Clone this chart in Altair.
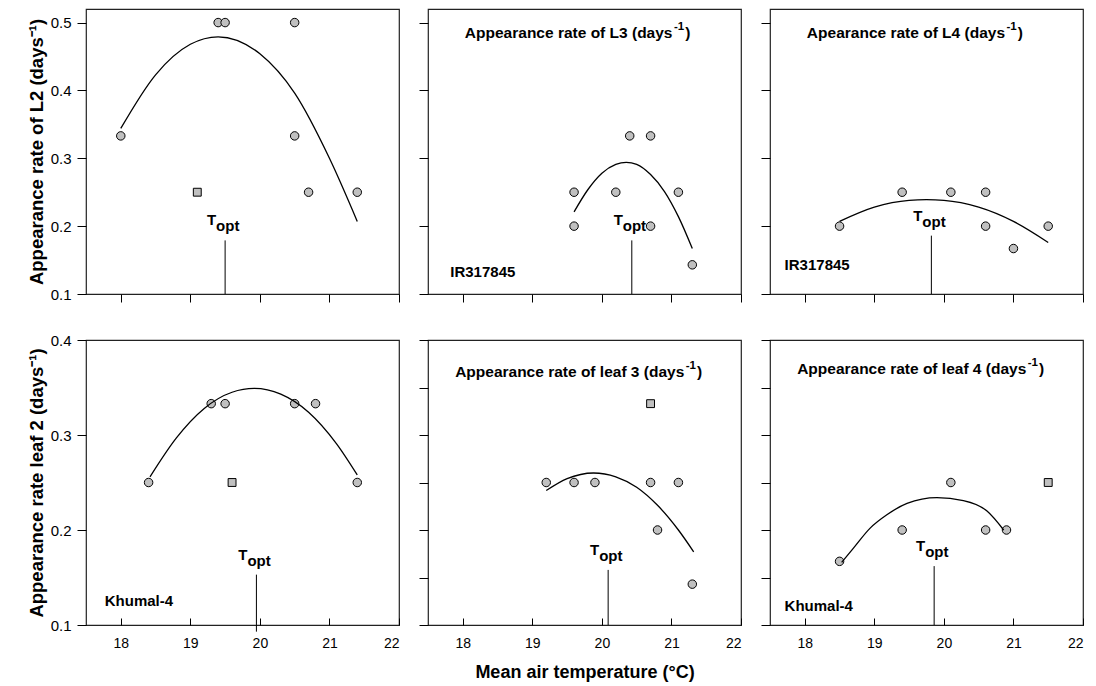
import altair as alt
import pandas as pd

FONT = "Liberation Sans"

# ---------------- axis tick values ----------------
x_ticks = [18, 19, 20, 21, 22]
top_y_ticks = [0.1, 0.2, 0.3, 0.4, 0.5]
bl_y_ticks = [0.1, 0.2, 0.3, 0.4]
bx_y_ticks = [0.1, 0.15, 0.2, 0.25, 0.3, 0.35, 0.4]

# ---------------- panel A : L2, IR317845 ----------------
a_circle_x = [18.0, 19.4, 19.5, 20.5, 20.5, 20.7, 21.4]
a_circle_y = [0.333, 0.5, 0.5, 0.5, 0.333, 0.25, 0.25]
a_square_x = [19.1]
a_square_y = [0.25]
a_curve_x = [18.0, 18.5, 19.0, 19.4, 20.0, 20.5, 21.0, 21.4]
a_curve_y = [0.344, 0.423, 0.468, 0.479, 0.454, 0.396, 0.300, 0.207]
a_topt = [19.5]
a_topt_top = [0.179]
a_topt_bottom = [0.1]

# ---------------- panel B : L3, IR317845 ----------------
b_circle_x = [19.6, 19.6, 20.2, 20.4, 20.7, 20.7, 21.1, 21.3]
b_circle_y = [0.25, 0.2, 0.25, 0.333, 0.333, 0.2, 0.25, 0.143]
b_square_x = []
b_square_y = []
b_curve_x = [19.6, 19.8, 20.0, 20.2, 20.35, 20.5, 20.7, 20.9, 21.1, 21.3]
b_curve_y = [0.221, 0.254, 0.278, 0.291, 0.294, 0.291, 0.276, 0.251, 0.214, 0.167]
b_topt = [20.43]
b_topt_top = [0.179]
b_topt_bottom = [0.1]

# ---------------- panel C : L4, IR317845 ----------------
c_circle_x = [18.5, 19.4, 20.1, 20.6, 20.6, 21.0, 21.5]
c_circle_y = [0.2, 0.25, 0.25, 0.25, 0.2, 0.167, 0.2]
c_square_x = []
c_square_y = []
c_curve_x = [18.5, 19.0, 19.5, 19.75, 20.0, 20.5, 21.0, 21.5]
c_curve_y = [0.207, 0.228, 0.238, 0.239, 0.238, 0.228, 0.207, 0.176]
c_topt = [19.82]
c_topt_top = [0.186]
c_topt_bottom = [0.1]

# ---------------- panel D : leaf 2, Khumal-4 ----------------
d_circle_x = [18.4, 19.3, 19.5, 20.5, 20.8, 21.4]
d_circle_y = [0.25, 0.333, 0.333, 0.333, 0.333, 0.25]
d_square_x = [19.6]
d_square_y = [0.25]
d_curve_x = [18.42, 18.8, 19.2, 19.6, 19.92, 20.3, 20.7, 21.1, 21.4]
d_curve_y = [0.256, 0.297, 0.328, 0.345, 0.349, 0.343, 0.324, 0.291, 0.258]
d_topt = [19.95]
d_topt_top = [0.153]
d_topt_bottom = [0.093]

# ---------------- panel E : leaf 3, Khumal-4 ----------------
e_circle_x = [19.2, 19.6, 19.9, 20.7, 21.1, 20.8, 21.3]
e_circle_y = [0.25, 0.25, 0.25, 0.25, 0.25, 0.2, 0.143]
e_square_x = [20.7]
e_square_y = [0.333]
e_curve_x = [19.2, 19.5, 19.88, 20.2, 20.5, 20.8, 21.1, 21.32]
e_curve_y = [0.2415, 0.254, 0.26, 0.256, 0.245, 0.226, 0.2, 0.177]
e_topt = [20.09]
e_topt_top = [0.158]
e_topt_bottom = [0.1]

# ---------------- panel F : leaf 4, Khumal-4 ----------------
f_circle_x = [18.5, 19.4, 20.1, 20.6, 20.9]
f_circle_y = [0.167, 0.2, 0.25, 0.2, 0.2]
f_square_x = [21.5]
f_square_y = [0.25]
f_curve_x = [18.53, 18.70, 18.94, 19.18, 19.47, 19.90, 20.28, 20.62, 20.86]
f_curve_y = [0.166, 0.181, 0.202, 0.216, 0.228, 0.234, 0.231, 0.220, 0.200]
f_topt = [19.86]
f_topt_top = [0.162]
f_topt_bottom = [0.1]

# ---------------- texts ----------------
# (main text, superscript, closing, x start, baseline y)
panel_titles = {
    "B": ("Appearance rate of L3 (days", "-1", ")", 18.03, 0.478),
    "C": ("Apearance rate of L4 (days", "-1", ")", 18.03, 0.478),
    "E": ("Appearance rate of leaf 3 (days", "-1", ")", 17.89, 0.361),
    "F": ("Appearance rate of leaf 4 (days", "-1", ")", 17.89, 0.364),
}
cultivar_labels = {
    "B": ("IR317845", 17.82, 0.1255),
    "C": ("IR317845", 17.71, 0.135),
    "D": ("Khumal-4", 17.77, 0.120),
    "F": ("Khumal-4", 17.71, 0.115),
}
y_titles = {
    "A": "Appearance rate of L2 (days⁻¹)",
    "D": "Appearance rate leaf 2 (days⁻¹)",
}
x_title_text = "Mean air temperature (°C)"

X_DOMAIN = [17.5, 22]
TOP_Y_DOMAIN = [0.1, 0.52]
BOT_Y_DOMAIN = [0.1, 0.4]

GRAY = "#c0c0c0"
TITLE_SIZE = 15.5
SUP_SIZE = 11.5

# Arial/Liberation Sans Bold advance widths (1/1000 em), for placing superscripts
BOLD_W = {"A": 722, "p": 611, "e": 556, "a": 556, "r": 389, "n": 611, "c": 556,
          " ": 278, "t": 333, "o": 611, "f": 333, "L": 611, "3": 556, "4": 556,
          "(": 333, "d": 611, "y": 556, "s": 556, "l": 278, ")": 333, "-": 333,
          "1": 556}


def text_width(s, size):
    return sum(BOLD_W.get(ch, 556) for ch in s) * size / 1000.0


def make_panel(key, cx, cy, sx, sy, kx, ky, topt, ttop, tbot, row, yvals, ylabels):
    ydom = TOP_Y_DOMAIN if row == "top" else BOT_Y_DOMAIN
    xscale = alt.Scale(domain=X_DOMAIN, nice=False, zero=False)
    yscale = alt.Scale(domain=ydom, nice=False, zero=False)

    if row == "top":
        xaxis = alt.Axis(values=x_ticks, labels=False, tickSize=8, domain=False,
                         grid=False, title="")
    else:
        xaxis = alt.Axis(values=x_ticks, labels=True, tickSize=7, offset=-7,
                         domain=False, grid=False, format="d", labelPadding=11,
                         title=x_title_text if key == "E" else "", titlePadding=13)
    yaxis = alt.Axis(values=yvals, labels=ylabels, tickSize=9, labelPadding=6,
                     domain=False, grid=False, format=".1f",
                     title=y_titles.get(key, ""), titlePadding=4)

    X = lambda f: alt.X(f, type="quantitative", scale=xscale, axis=xaxis)
    Y = lambda f: alt.Y(f, type="quantitative", scale=yscale, axis=yaxis)

    layers = []
    circ = pd.DataFrame({"x": cx, "y": cy})
    layers.append(alt.Chart(circ).mark_point(shape="circle", filled=True, fill=GRAY,
                                             stroke="black", strokeWidth=1, size=72,
                                             opacity=1).encode(x=X("x"), y=Y("y")))
    if len(sx):
        sq = pd.DataFrame({"x": sx, "y": sy})
        layers.append(alt.Chart(sq).mark_point(shape="square", filled=True, fill=GRAY,
                                               stroke="black", strokeWidth=1, size=62,
                                               opacity=1).encode(x=X("x"), y=Y("y")))
    cur = pd.DataFrame({"x": kx, "y": ky})
    layers.append(alt.Chart(cur).mark_line(color="black", strokeWidth=1.3,
                                           interpolate="monotone").encode(x=X("x"), y=Y("y")))
    tl = pd.DataFrame({"x": topt, "y": tbot, "y2": ttop})
    layers.append(alt.Chart(tl).mark_rule(color="black", strokeWidth=1).encode(
        x=X("x"), y=Y("y"), y2="y2:Q"))
    layers.append(alt.Chart(tl).mark_text(text="T", align="right", baseline="alphabetic",
                                          dx=-9, dy=-15, font=FONT, fontSize=15,
                                          fontWeight="bold", color="black").encode(
        x=X("x"), y=Y("y2")))
    layers.append(alt.Chart(tl).mark_text(text="opt", align="left", baseline="alphabetic",
                                          dx=-9, dy=-9, font=FONT, fontSize=15,
                                          fontWeight="bold", color="black").encode(
        x=X("x"), y=Y("y2")))
    if key in panel_titles:
        main, sup, close, tx, ty = panel_titles[key]
        tdf = pd.DataFrame({"x": [tx], "y": [ty], "t": [main], "s": [sup], "c": [close]})
        w_main = text_width(main, TITLE_SIZE)
        w_sup = text_width(sup, SUP_SIZE)
        layers.append(alt.Chart(tdf).mark_text(align="left", baseline="alphabetic",
                                               font=FONT, fontSize=TITLE_SIZE,
                                               fontWeight="bold", color="black").encode(
            x=X("x"), y=Y("y"), text="t:N"))
        layers.append(alt.Chart(tdf).mark_text(align="left", baseline="alphabetic",
                                               dx=w_main + 1.5, dy=-8,
                                               font=FONT, fontSize=SUP_SIZE,
                                               fontWeight="bold", color="black").encode(
            x=X("x"), y=Y("y"), text="s:N"))
        layers.append(alt.Chart(tdf).mark_text(align="left", baseline="alphabetic",
                                               dx=w_main + w_sup + 2.5,
                                               font=FONT, fontSize=TITLE_SIZE,
                                               fontWeight="bold", color="black").encode(
            x=X("x"), y=Y("y"), text="c:N"))
    if key in cultivar_labels:
        t, tx, ty = cultivar_labels[key]
        cdf = pd.DataFrame({"x": [tx], "y": [ty], "t": [t]})
        layers.append(alt.Chart(cdf).mark_text(align="left", baseline="alphabetic",
                                               font=FONT, fontSize=15, fontWeight="bold",
                                               color="black").encode(
            x=X("x"), y=Y("y"), text="t:N"))
    return alt.layer(*layers).properties(width=313, height=285)


pA = make_panel("A", a_circle_x, a_circle_y, a_square_x, a_square_y, a_curve_x, a_curve_y,
                a_topt, a_topt_top, a_topt_bottom, "top", top_y_ticks, True)
pB = make_panel("B", b_circle_x, b_circle_y, b_square_x, b_square_y, b_curve_x, b_curve_y,
                b_topt, b_topt_top, b_topt_bottom, "top", top_y_ticks, False)
pC = make_panel("C", c_circle_x, c_circle_y, c_square_x, c_square_y, c_curve_x, c_curve_y,
                c_topt, c_topt_top, c_topt_bottom, "top", top_y_ticks, False)
pD = make_panel("D", d_circle_x, d_circle_y, d_square_x, d_square_y, d_curve_x, d_curve_y,
                d_topt, d_topt_top, d_topt_bottom, "bottom", bl_y_ticks, True)
pE = make_panel("E", e_circle_x, e_circle_y, e_square_x, e_square_y, e_curve_x, e_curve_y,
                e_topt, e_topt_top, e_topt_bottom, "bottom", bx_y_ticks, False)
pF = make_panel("F", f_circle_x, f_circle_y, f_square_x, f_square_y, f_curve_x, f_curve_y,
                f_topt, f_topt_top, f_topt_bottom, "bottom", bx_y_ticks, False)

chart = alt.concat(pA, pB, pC, pD, pE, pF, columns=3,
                   spacing={"row": 46, "column": 29}, bounds="flush").configure_view(
    stroke="#222222", strokeWidth=1.2
).configure_axis(
    labelFont=FONT, labelFontSize=14, labelColor="black",
    titleFont=FONT, titleFontSize=18, titleFontWeight="bold", titleColor="black",
    tickColor="black", tickWidth=1
).configure_axisY(
    labelFontSize=15, titleFontSize=18.5
).properties(
    padding={"left": 26, "top": 8, "right": 5, "bottom": 5},
    background="white"
)

chart.save("out.html", embed_options={"renderer": "svg", "actions": False})
